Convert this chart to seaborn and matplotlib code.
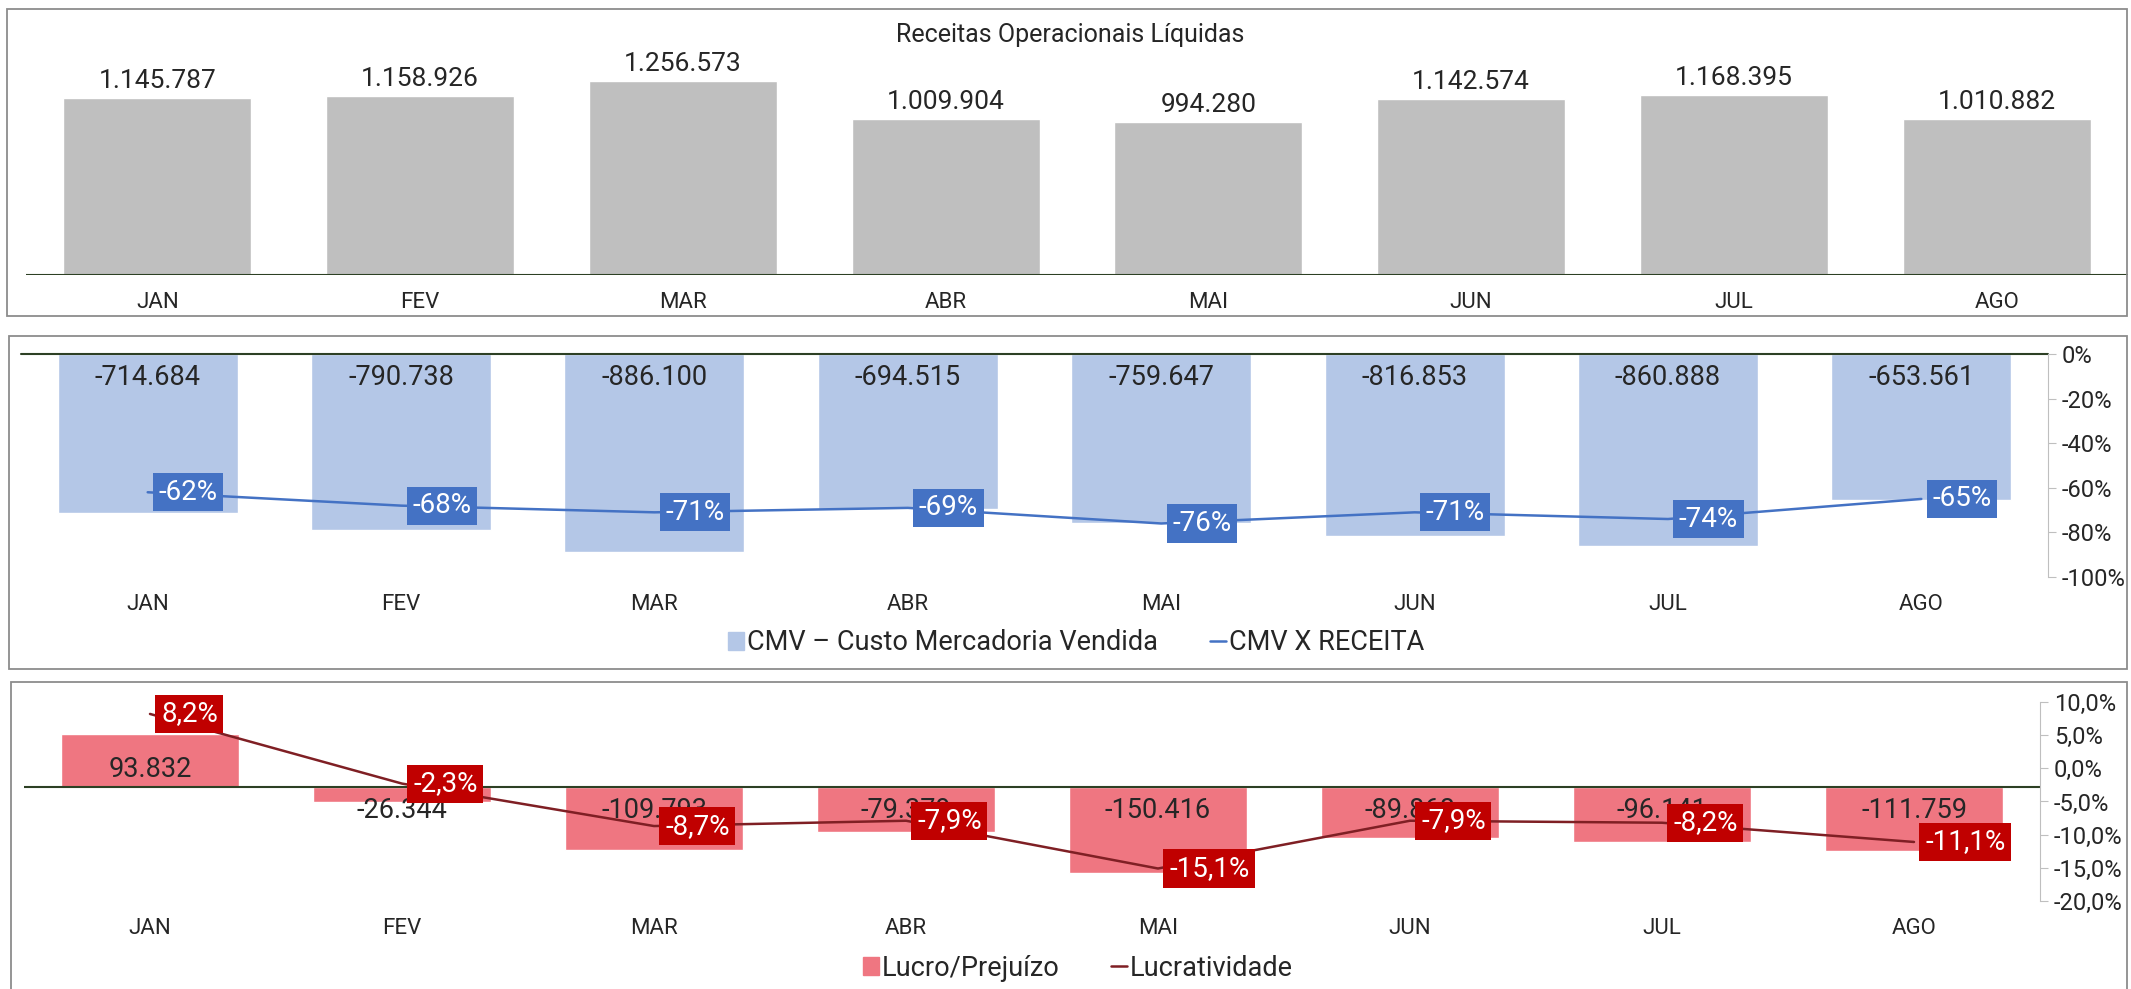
import numpy as np
import pandas as pd
import matplotlib
matplotlib.use('Agg')
import matplotlib.pyplot as plt
from matplotlib.patches import Rectangle, Patch
from matplotlib.lines import Line2D
import seaborn as sns

meses = ['JAN', 'FEV', 'MAR', 'ABR', 'MAI', 'JUN', 'JUL', 'AGO']
receita = [1145787, 1158926, 1256573, 1009904, 994280, 1142574, 1168395, 1010882]
cmv = [-714684, -790738, -886100, -694515, -759647, -816853, -860888, -653561]
cmv_pct = [-62, -68, -71, -69, -76, -71, -74, -65]
lucro = [93832, -26344, -109793, -79379, -150416, -89868, -96141, -111759]
lucrat = [8.2, -2.3, -8.7, -7.9, -15.1, -7.9, -8.2, -11.1]

W, H = 2131, 989
sns.set_style('white')
plt.rcParams['font.family'] = ['Roboto', 'DejaVu Sans']

fig = plt.figure(figsize=(W / 100, H / 100), dpi=100)


def rect(x0, y0, x1, y1):
    return [x0 / W, 1 - y1 / H, (x1 - x0) / W, (y1 - y0) / H]


def milhar(v):
    return f"{v:,.0f}".replace(',', '.')


BASE = '#2D4024'
pos = np.arange(len(meses))

# panel borders
for x0, y0, x1, y1 in [(7, 9, 2127, 316), (9, 336, 2127, 669), (11, 682, 2127, 1000)]:
    fig.add_artist(Rectangle((x0 / W, 1 - y1 / H), (x1 - x0) / W, (y1 - y0) / H,
                             transform=fig.transFigure, fill=False, ec='#8C8C8C', lw=1.3))


def style_ax(ax):
    ax.set_facecolor('none')
    for s in ax.spines.values():
        s.set_visible(False)
    ax.set_xlim(-0.5, len(meses) - 0.5)
    ax.set_xlabel('')
    ax.set_ylabel('')
    ax.set_yticks([])
    ax.tick_params(axis='x', length=0, pad=12, labelsize=16)


# ---- panel 1
ax1 = fig.add_axes(rect(26, 59, 2128, 275))
df1 = pd.DataFrame({'mes': meses, 'valor': receita})
sns.barplot(data=df1, x='mes', y='valor', color='#BFBFBF', saturation=1, width=0.715, ax=ax1)
ax1.set_ylim(0, 1400000)
style_ax(ax1)
ax1.axhline(0, color=BASE, lw=1.5)
for i, v in enumerate(receita):
    ax1.annotate(milhar(v), (i, v), xytext=(0, 10), textcoords='offset pixels',
                 ha='center', va='baseline', fontsize=19)
fig.text(1070 / W, 1 - 35 / H, 'Receitas Operacionais Líquidas', ha='center', va='center', fontsize=18)

# ---- panel 2
ax2 = fig.add_axes(rect(21, 354, 2048, 577))
df2 = pd.DataFrame({'mes': meses, 'valor': cmv})
sns.barplot(data=df2, x='mes', y='valor', color='#B4C7E7', saturation=1, width=0.71, ax=ax2)
ax2.set_ylim(-1000000, 0)
style_ax(ax2)
ax2.axhline(0, color=BASE, lw=1.5, clip_on=False)
for i, v in enumerate(cmv):
    ax2.annotate(milhar(v), (i, 0), xytext=(0, -31), textcoords='offset pixels',
                 ha='center', va='baseline', fontsize=19.5)
ax2b = ax2.twinx()
sns.lineplot(x=pos, y=cmv_pct, color='#4472C4', lw=1.8, ax=ax2b)
ax2b.set_ylim(-100, 0)
ax2b.set_xlim(-0.5, len(meses) - 0.5)
ax2b.set_yticks(np.arange(-100, 1, 20))
ax2b.set_yticklabels([f"{t}%" for t in np.arange(-100, 1, 20)])
for s in ['top', 'left', 'bottom']:
    ax2b.spines[s].set_visible(False)
ax2b.spines['right'].set_color('#BFBFBF')
ax2b.tick_params(axis='y', length=6, color='#BFBFBF', labelsize=17, pad=4, right=True)
for i, v in enumerate(cmv_pct):
    ax2b.annotate(f"{v}%", (i, v), xytext=(11, 0), textcoords='offset pixels',
                  ha='left', va='center', fontsize=20, color='white',
                  bbox=dict(boxstyle='square,pad=0.2', fc='#4472C4', ec='none'))
fig.legend(handles=[Patch(color='#B4C7E7', label='CMV – Custo Mercadoria Vendida'),
                    Line2D([], [], color='#4472C4', lw=1.8, label='CMV X RECEITA')],
           loc='center', bbox_to_anchor=(1076 / W, 1 - 643 / H), ncol=2, frameon=False,
           fontsize=19.5, handlelength=0.6, handleheight=0.6, handletextpad=0.1, columnspacing=1.9)

# ---- panel 3
ax3 = fig.add_axes(rect(24, 702, 2040, 901))
df3 = pd.DataFrame({'mes': meses, 'valor': lucro})
sns.barplot(data=df3, x='mes', y='valor', color='#EF7681', saturation=1, width=0.71, ax=ax3)
ax3.set_ylim(-200000, 150000)
style_ax(ax3)
ax3.axhline(0, color=BASE, lw=1.5)
for i, v in enumerate(lucro):
    ax3.annotate(milhar(v), (i, 0), xytext=(0, 10 if v > 0 else -31), textcoords='offset pixels',
                 ha='center', va='baseline', fontsize=19.5)
ax3b = ax3.twinx()
sns.lineplot(x=pos, y=lucrat, color='#7F1F24', lw=1.8, ax=ax3b)
ax3b.set_ylim(-20, 10)
ax3b.set_xlim(-0.5, len(meses) - 0.5)
ticks3 = np.arange(-20, 10.1, 5)
ax3b.set_yticks(ticks3)
ax3b.set_yticklabels([f"{t:.1f}%".replace('.', ',') for t in ticks3])
for s in ['top', 'left', 'bottom']:
    ax3b.spines[s].set_visible(False)
ax3b.spines['right'].set_color('#BFBFBF')
ax3b.tick_params(axis='y', length=6, color='#BFBFBF', labelsize=17, pad=4, right=True)
for i, v in enumerate(lucrat):
    ax3b.annotate(f"{v:.1f}%".replace('.', ','), (i, v), xytext=(11, 0), textcoords='offset pixels',
                  ha='left', va='center', fontsize=20, color='white',
                  bbox=dict(boxstyle='square,pad=0.2', fc='#C00000', ec='none'))
fig.legend(handles=[Patch(color='#EF7681', label='Lucro/Prejuízo'),
                    Line2D([], [], color='#7F1F24', lw=1.8, label='Lucratividade')],
           loc='center', bbox_to_anchor=(1078 / W, 1 - 968 / H), ncol=2, frameon=False,
           fontsize=19.5, handlelength=0.6, handleheight=0.6, handletextpad=0.1, columnspacing=1.9)

fig.savefig('out.png', dpi=100)
